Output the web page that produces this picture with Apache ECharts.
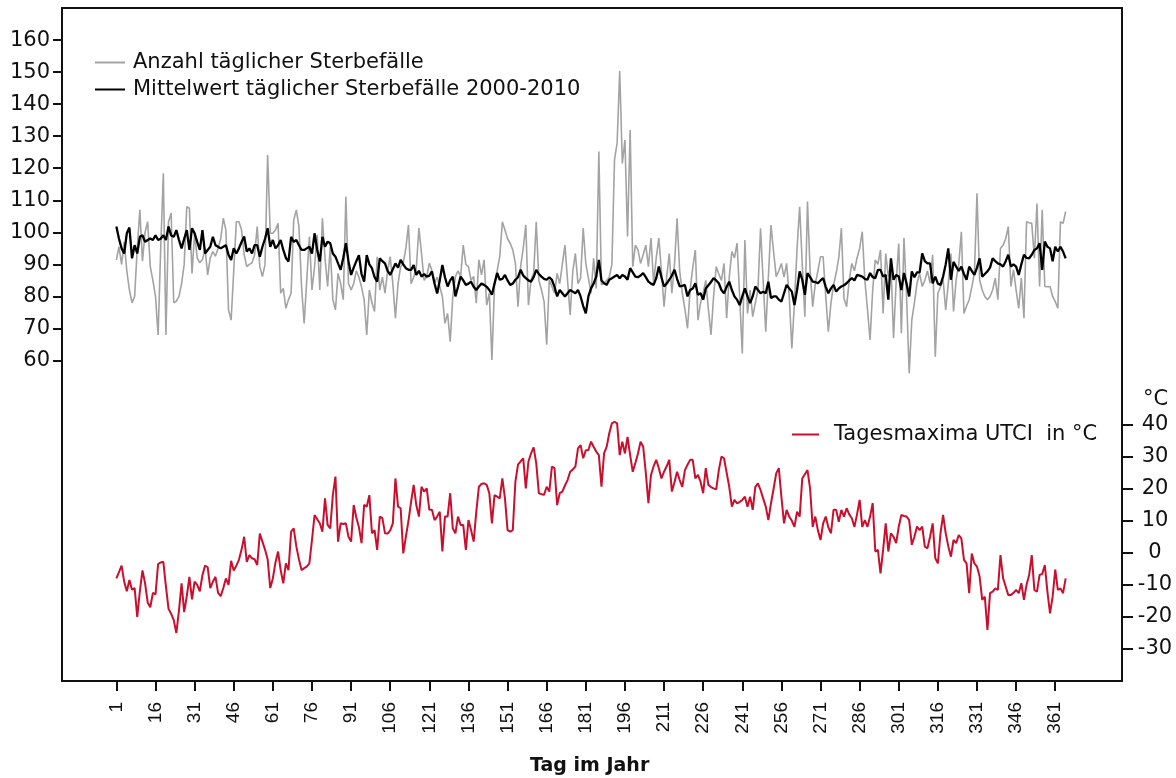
<!DOCTYPE html>
<html>
<head>
<meta charset="utf-8">
<title>Sterbefälle und UTCI</title>
<script src="https://cdn.jsdelivr.net/npm/echarts@6/dist/echarts.min.js"></script>
<style>
  html, body { margin: 0; padding: 0; background: #fff; }
  #chart { width: 1176px; height: 778px; }
</style>
</head>
<body>
<div id="chart"></div>
<script>
// Anzahl täglicher Sterbefälle (Tag 1..365)
const dailyDeaths = [
  91.4, 95.5, 90, 97, 88, 82, 78, 80, 95, 107,
  91, 100, 103.3, 89.3, 85, 80, 68, 95, 118.4, 68,
  103.3, 106, 78, 78.5, 80, 84, 90, 108, 107.5, 87.2,
  99.7, 92, 90.5, 91.5, 95, 86.7, 92, 94, 92.5, 95,
  98, 104.4, 100.7, 75.8, 72.6, 88, 103.3, 103.3, 100.7, 93,
  89.3, 90, 90.5, 93, 101.8, 89.3, 86.2, 90, 124.1, 99.7,
  99.7, 100.7, 102.8, 81, 82.5, 76.3, 79, 81, 103.8, 107,
  101.8, 83.1, 71.6, 85, 98.7, 82, 89.3, 99.2, 82, 104.4,
  92, 83.1, 95.5, 79, 75.8, 87.2, 84, 79, 111.1, 84.1,
  82, 84, 88, 86, 83, 79, 68, 82, 78, 75.3,
  92.4, 82, 86, 81, 88, 92.4, 84, 73.2, 84, 89.3,
  90.4, 95, 102.3, 84, 86, 88.8, 101.3, 93.4, 85, 86.2,
  90.4, 88, 84.1, 86, 83.1, 80, 71.6, 74.7, 65.9, 80,
  86.2, 88, 86.2, 96, 90, 89.3, 85, 86.2, 77.9, 91.4,
  86.7, 91.4, 77.3, 81, 60.2, 83.6, 88, 92.4, 103.3, 100.7,
  98, 96.6, 94.5, 90.3, 76.8, 89.3, 95, 102.3, 77.3, 85.2,
  87.2, 103.3, 85, 82, 78.4, 64.9, 85.2, 83.1, 81, 87.2,
  84, 90, 96, 85, 74.2, 87.8, 93.4, 84, 85.7, 101.3,
  90.3, 85.7, 81, 91.9, 82.5, 125.2, 83.6, 84.1, 85, 86,
  90, 122.6, 127.8, 150.3, 121.5, 128.8, 98.7, 131.9, 89.3, 96,
  94.5, 90.3, 93, 96, 89.3, 98.2, 84.1, 92, 98.2, 88,
  76.8, 86, 93.4, 81, 90, 104.4, 88, 81, 76, 70,
  82, 89, 94.5, 72.6, 78, 81, 85, 76, 68, 80,
  89.3, 87, 85, 90.3, 73.2, 86, 94, 92, 96.6, 80,
  62.2, 97.6, 74.7, 82, 73.7, 78, 82, 101.3, 85, 69,
  86, 102.3, 94, 86.2, 88, 90.3, 86, 90.3, 80, 63.8,
  78, 95, 108, 90, 73.7, 109.6, 88, 76.8, 84, 88,
  92.4, 92.4, 80, 69, 78, 83.6, 87.3, 92, 101.3, 79.4,
  76.8, 85, 90.3, 88, 92, 95, 100.2, 85, 76, 66.4,
  82, 91.4, 90, 94.5, 74.7, 93.4, 86.2, 90.3, 67, 84.6,
  96.5, 68.5, 98.2, 80, 56, 72.6, 78, 84.1, 87.2, 83.1,
  85, 88, 84.1, 93, 61.2, 81, 83, 85.2, 75.8, 84,
  93.4, 75.3, 85.2, 90, 100.2, 74.7, 77, 78.9, 83, 87.2,
  112.2, 85.2, 82, 80, 79, 80, 82, 85.7, 79, 95,
  96, 98, 101.8, 83.1, 88.3, 82, 76.3, 85.7, 73.2, 103.3,
  103, 102.8, 91.9, 109, 83.1, 107, 83.1, 83, 83.1, 80,
  78.4, 76.3, 103.3, 102.8, 106.5
];

// Mittelwert täglicher Sterbefälle 2000-2010
const meanDeaths = [
  101.8, 98, 95, 93.4, 99.7, 101.5, 91.9, 96, 93.4, 98.6,
  99.1, 97, 97.6, 98.1, 97.6, 99.1, 97.6, 98, 99.1, 97.6,
  101.8, 99, 98.6, 100.7, 97.6, 95, 98, 100.7, 94.5, 101.3,
  99.7, 97, 94.5, 100.7, 93.4, 94.5, 95.5, 98.6, 96, 95.5,
  95, 95.5, 96, 93, 91.4, 95, 93.4, 95, 97, 98.7,
  94, 95, 93.4, 96, 96, 92.4, 95.5, 98, 101.3, 95.5,
  97.6, 95, 96, 97.6, 94.5, 92, 90.9, 98.6, 97, 97.6,
  96, 94.5, 94.5, 95, 95.5, 93.4, 99.7, 94.5, 90.9, 98.6,
  95.5, 97.1, 96.6, 93.4, 92.4, 90.3, 88.3, 92, 96.6, 91,
  86.7, 89, 91, 92.9, 87, 84.6, 92.9, 90, 88.8, 86,
  84.6, 91.9, 91, 90.3, 88, 86.7, 88.5, 90.3, 89, 91.4,
  90, 88.8, 88.3, 88.3, 89.8, 86.7, 88, 86.2, 87, 86.2,
  86.5, 87.8, 84, 80.9, 85, 89.8, 86, 83.1, 85, 86.2,
  80, 83, 86.2, 85, 83.6, 84, 84.6, 83, 82, 83.1,
  84, 83.6, 83, 82, 80.5, 84, 87.3, 85.2, 85.5, 86.7,
  85, 83.6, 84, 85.2, 86, 88.3, 86.5, 85.7, 85, 84.6,
  86, 88.3, 87, 86.2, 85.5, 85.2, 86, 85.2, 83, 80,
  82, 81, 80, 81, 82, 81.5, 81, 82, 80, 77,
  74.7, 80, 82.5, 84, 86.2, 91.4, 85, 84.1, 83.6, 85.2,
  85.7, 86.2, 86.7, 85.7, 86.7, 86.2, 85.2, 88.8, 87.5, 86.2,
  86, 86.5, 87.3, 86, 84.6, 84, 83.6, 85.7, 89.3, 86,
  83.1, 84, 85.2, 86.5, 88.3, 85.5, 83.1, 83.3, 83.6, 80,
  82, 82.5, 84.1, 80.5, 81, 79, 82.5, 83.5, 84.5, 85.7,
  85, 84.1, 82, 81, 83, 84.6, 82, 80, 79, 77.3,
  80, 82.5, 80, 77.9, 80, 83.1, 82, 81, 81.5, 81,
  84.6, 79.5, 80, 80, 79, 78.4, 81, 83.6, 82.5, 81.5,
  77.3, 82, 87.8, 85.2, 80.5, 87.3, 86, 84.6, 84.5, 84.1,
  85, 85.7, 83, 81, 82.5, 83.6, 81.5, 82.5, 83.1, 83.5,
  84.1, 85, 85.7, 85, 86.7, 86.5, 86.2, 85.5, 85.2, 87.3,
  86, 85.7, 88.3, 88.3, 86.2, 86.7, 79, 91.9, 85.2, 86.7,
  86.2, 82, 87.3, 84, 80, 87.8, 86, 87.5, 87.5, 93.4,
  91, 90.3, 90.3, 84.1, 86.2, 84, 83.6, 86.2, 90, 95,
  85.2, 90.8, 89.3, 88, 89.3, 87, 85.2, 89.3, 88, 86.7,
  89, 91.9, 86.2, 87, 87.8, 89, 91.9, 91, 90.3, 90,
  89.3, 91, 93, 89.3, 90, 89.3, 86.7, 90, 93, 92,
  91.9, 93, 94.5, 95, 96.6, 88.3, 97.1, 95.5, 95, 91,
  95.5, 94, 95.5, 94, 91.9
];

// Tagesmaxima UTCI in °C
const utciMax = [
  -8, -6, -4, -9, -12, -8.5, -11.5, -11, -20, -12,
  -5.5, -9.5, -15.5, -17, -12.5, -13, -3.5, -3, -2.8, -10.5,
  -17.5, -19, -21, -25, -18, -9.5, -18.5, -13.5, -7.5, -14.5,
  -9, -10, -12, -7, -4, -4.5, -11, -9, -7.5, -12.5,
  -13.5, -11, -8, -10, -2.5, -5.5, -4, -2.2, 1, 5,
  -2.8, -0.7, -1.7, -2, -3.8, 6, 3.5, 1, -2, -11,
  -8, -3, 0.4, -5.4, -9.5, -3.3, -5.4, 6.6, 7.6, 2,
  -2, -5.4, -4.8, -4.3, -3.3, 4, 11.8, 10.5, 9.2, 6.6,
  17, 8.7, 7.6, 18, 23.8, 3.5, 9.2, 9, 9.2, 5,
  3.5, 14.9, 11, 8, 3, 15, 14.4, 18, 6.1, 7.1,
  0.9, 11.3, 10.8, 6.1, 6, 7, 9.2, 23.2, 14.4, 13.9,
  -0.2, 5, 10, 15.9, 21.2, 14.9, 11.3, 20.6, 19.1, 20.1,
  13.4, 13.4, 10.2, 11.3, 12.8, 0.4, 11.3, 11.3, 18.6, 7.6,
  6.1, 11.3, 8.7, 8.7, 0.9, 10.2, 7.1, 3.5, 12.8, 20.6,
  21.5, 21.7, 21.2, 18.6, 9.2, 18, 17.5, 17, 23.2, 17,
  7.1, 6.6, 7.1, 22.2, 27.5, 28.5, 29.5, 20.1, 28.5, 31,
  32.9, 27.9, 18.6, 18.3, 18.1, 20.6, 19.1, 26.9, 26.4, 14.9,
  18.6, 19.1, 21, 22.7, 25.3, 26, 26.9, 32.6, 33.6, 29.5,
  32, 32.1, 34.7, 33.1, 31.6, 30.5, 20.6, 31, 33.1, 37.3,
  40.4, 40.9, 40.4, 30.5, 34.7, 31, 36.2, 30.5, 25.3, 28,
  31, 34.7, 33.1, 25, 15.5, 24.3, 27, 29, 26.4, 23.2,
  25.3, 27, 29, 19.1, 22, 25.3, 22.7, 20.6, 25.8, 27.5,
  29, 29, 23.2, 24.3, 22.2, 18.6, 26.4, 21.2, 20.5, 20.1,
  19.8, 25.8, 30, 29.5, 25, 20.6, 14.4, 16.5, 15.4, 15.9,
  16.5, 17.5, 14.4, 17.5, 13.4, 20.6, 21.7, 19.6, 17, 14.4,
  10.2, 15.4, 20, 24.8, 26.4, 17.5, 9.2, 13.4, 11.3, 10,
  8.1, 12.8, 11.3, 23.2, 24.5, 25.8, 20, 8.1, 11.3, 7,
  4, 9.2, 11.3, 8, 6.1, 13.4, 13.4, 9.7, 13.4, 11.3,
  13.9, 12, 10.8, 8.1, 12, 16.5, 8.1, 10.2, 8.1, 11.3,
  15.5, 0.4, 0.9, -6.4, 0.9, 9.2, 0.4, 6.1, 5, 3,
  8.2, 11.8, 11.5, 11.3, 10.2, 2.5, 5, 8.2, 7.1, 8.2,
  1.9, 1.4, 5, 9.2, -1.7, -3.3, 6.1, 11.8, 6.1, 2,
  -1.2, 4, 3, 5.5, 4.5, -2.2, -3.3, -12.6, -0.2, -3.3,
  -4.3, -7.4, -14.7, -13.7, -24.1, -12.6, -12.1, -11.1, -11.6, -0.7,
  -7.9, -10.5, -13.2, -13.2, -12.5, -11.6, -12.6, -9.5, -14.7, -10,
  -6.9, -0.7, -11.6, -12.1, -6.9, -6.6, -3.8, -12.1, -18.9, -13.7,
  -5.2, -11.6, -11.1, -12.6, -8
];

const dayTicks = [1, 16, 31, 46, 61, 76, 91, 106, 121, 136, 151, 166, 181,
  196, 211, 226, 241, 256, 271, 286, 301, 316, 331, 346, 361];
const deathTicks = [60, 70, 80, 90, 100, 110, 120, 130, 140, 150, 160];
const tempTicks = [-30, -20, -10, 0, 10, 20, 30, 40];

const toPairs = (arr) => arr.map((v, i) => [i + 1, v]);

const labelFont = "DejaVu Sans";
const ink = "#111";

const chart = echarts.init(document.getElementById("chart"));

const option = {
  animation: false,
  backgroundColor: "#ffffff",
  title: [
    {
      text: "Tag im Jahr",
      left: 530,
      top: 757,
      padding: 0,
      textStyle: { fontFamily: labelFont, fontSize: 19, fontWeight: "bold", color: ink },
    },
    {
      text: "°C",
      left: 1143,
      top: 389,
      padding: 0,
      textStyle: { fontFamily: labelFont, fontSize: 21, fontWeight: "normal", color: ink },
    },
  ],
  legend: [
    {
      data: ["Anzahl täglicher Sterbefälle", "Mittelwert täglicher Sterbefälle 2000-2010"],
      orient: "vertical",
      left: 95,
      top: 52,
      padding: 0,
      icon: "rect",
      itemWidth: 30,
      itemHeight: 2,
      itemGap: 6,
      selectedMode: false,
      textStyle: { fontFamily: labelFont, fontSize: 21, lineHeight: 21, color: ink, padding: [0, 0, 0, 3] },
    },
    {
      data: ["Tagesmaxima UTCI  in °C"],
      left: 792,
      top: 424,
      padding: 0,
      icon: "rect",
      itemWidth: 27,
      itemHeight: 2,
      selectedMode: false,
      textStyle: { fontFamily: labelFont, fontSize: 21, lineHeight: 21, color: ink, padding: [0, 0, 0, 10] },
    },
  ],
  grid: {
    left: 62,
    right: 54,
    top: 8,
    bottom: 97,
    show: true,
    borderColor: ink,
    borderWidth: 2,
  },
  xAxis: {
    type: "value",
    min: -19.85,
    max: 386.6,
    axisLine: { show: true, onZero: false, lineStyle: { color: ink, width: 2 } },
    splitLine: { show: false },
    axisTick: {
      customValues: dayTicks,
      length: 10,
      lineStyle: { color: ink, width: 2 },
    },
    axisLabel: {
      customValues: dayTicks,
      rotate: 90,
      margin: 21,
      fontFamily: "Liberation Sans",
      fontSize: 19,
      color: ink,
    },
  },
  yAxis: [
    {
      type: "value",
      position: "left",
      min: -40,
      max: 170,
      axisLine: { show: true, onZero: false, lineStyle: { color: ink, width: 2 } },
      splitLine: { show: false },
      axisTick: {
        customValues: deathTicks,
        length: 9,
        lineStyle: { color: ink, width: 2 },
      },
      axisLabel: {
        customValues: deathTicks,
        margin: 12,
        fontFamily: labelFont,
        fontSize: 21,
        color: ink,
      },
    },
    {
      type: "value",
      position: "right",
      min: -40,
      max: 170,
      axisLine: { show: true, onZero: false, lineStyle: { color: ink, width: 2 } },
      splitLine: { show: false },
      axisTick: {
        customValues: tempTicks,
        length: 11,
        lineStyle: { color: ink, width: 2 },
      },
      axisLabel: {
        customValues: tempTicks,
        margin: 33,
        align: "center",
        fontFamily: labelFont,
        fontSize: 21,
        color: ink,
      },
    },
  ],
  series: [
    {
      name: "Anzahl täglicher Sterbefälle",
      type: "line",
      yAxisIndex: 0,
      symbol: "none",
      data: toPairs(dailyDeaths),
      itemStyle: { color: "#a3a3a3" },
      lineStyle: { color: "#a3a3a3", width: 1.6 },
    },
    {
      name: "Mittelwert täglicher Sterbefälle 2000-2010",
      type: "line",
      yAxisIndex: 0,
      symbol: "none",
      data: toPairs(meanDeaths),
      itemStyle: { color: "#000000" },
      lineStyle: { color: "#000000", width: 2.3 },
    },
    {
      name: "Tagesmaxima UTCI  in °C",
      type: "line",
      yAxisIndex: 1,
      symbol: "none",
      data: toPairs(utciMax),
      itemStyle: { color: "#c8102e" },
      lineStyle: { color: "#c8102e", width: 2 },
    },
  ],
};

chart.setOption(option);
</script>
</body>
</html>
